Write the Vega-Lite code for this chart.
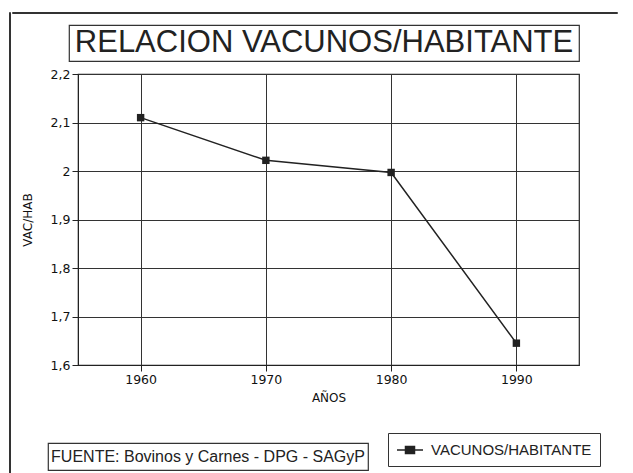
{
  "$schema": "https://vega.github.io/schema/vega-lite/v6.json",
  "background": "white",
  "padding": {"left": 8, "top": 11, "right": 0, "bottom": 0},
  "spacing": 0,
  "config": {
    "font": "Liberation Sans",
    "view": {"stroke": null},
    "axis": {
      "domainColor": "#222222",
      "tickColor": "#222222",
      "gridColor": "#333333",
      "grid": true,
      "gridWidth": 1,
      "tickSize": 6,
      "labelColor": "#111111",
      "titleColor": "#111111",
      "labelFont": "DejaVu Sans",
      "titleFont": "DejaVu Sans",
      "labelFontSize": 12.5,
      "titleFontSize": 12,
      "titleFontWeight": "normal"
    }
  },
  "datasets": {
    "ratio": [
      {"anio": 1960, "valor": 2.11, "serie": "VACUNOS/HABITANTE"},
      {"anio": 1970, "valor": 2.022, "serie": "VACUNOS/HABITANTE"},
      {"anio": 1980, "valor": 1.997, "serie": "VACUNOS/HABITANTE"},
      {"anio": 1990, "valor": 1.645, "serie": "VACUNOS/HABITANTE"}
    ],
    "titulo": [{"texto": "RELACION VACUNOS/HABITANTE"}],
    "fuente": [{"texto": "FUENTE: Bovinos y Carnes - DPG - SAGyP"}],
    "vacio": []
  },
  "hconcat": [
    {"width": 1, "height": 462, "data": {"name": "vacio"}, "mark": "point", "view": {"stroke": "#333333", "strokeWidth": 1}},
    {
      "spacing": 10,
      "vconcat": [
        {"width": 605, "height": 1, "data": {"name": "vacio"}, "mark": "point", "view": {"stroke": "#333333", "strokeWidth": 1}},
        {
          "spacing": 37,
          "vconcat": [
            {
              "spacing": 5,
              "vconcat": [
                {
                  "spacing": 55,
                  "hconcat": [
                    {"width": 1, "height": 1, "data": {"name": "vacio"}, "mark": "point"},
                    {
                      "width": 510, "height": 36,
                      "data": {"name": "titulo"},
                      "view": {"stroke": "#333333", "strokeWidth": 1.2},
                      "mark": {"type": "text", "font": "Liberation Sans", "fontSize": 31, "color": "#222222"},
                      "encoding": {"text": {"field": "texto", "type": "nominal"}}
                    }
                  ]
                },
                {
                  "spacing": 7,
                  "hconcat": [
                    {"width": 1, "height": 1, "data": {"name": "vacio"}, "mark": "point"},
                    {
                      "width": 501, "height": 291,
                      "data": {"name": "ratio"},
                      "view": {"stroke": "#222222", "strokeWidth": 1.2},
                      "encoding": {
                        "x": {
                          "field": "anio", "type": "quantitative",
                          "scale": {"domain": [1955, 1995], "nice": false, "zero": false},
                          "axis": {"values": [1960, 1970, 1980, 1990], "format": "d", "title": "AÑOS", "labelPadding": 2, "titlePadding": 7}
                        },
                        "y": {
                          "field": "valor", "type": "quantitative",
                          "scale": {"domain": [1.6, 2.2], "nice": false, "zero": false},
                          "axis": {
                            "values": [1.6, 1.7, 1.8, 1.9, 2, 2.1, 2.2],
                            "labelExpr": "replace(format(datum.value, '.1~f'), '.', ',')",
                            "title": "VAC/HAB", "labelPadding": 2, "titlePadding": 16
                          }
                        },
                        "color": {
                          "field": "serie", "type": "nominal",
                          "scale": {"range": ["#222222"]},
                          "legend": {
                            "orient": "none", "legendX": 379, "legendY": 421,
                            "title": null,
                            "strokeColor": "#333333",
                            "padding": 8,
                            "symbolType": "M-1,0H2.25M0.0625,-0.4375H1.1875V0.4375H0.0625Z",
                            "symbolSize": 256,
                            "symbolStrokeWidth": 1.5,
                            "symbolFillColor": "#222222",
                            "symbolStrokeColor": "#222222",
                            "labelFont": "Liberation Sans",
                            "labelFontSize": 15,
                            "labelColor": "#222222",
                            "labelOffset": 17,
                            "labelLimit": 300
                          }
                        }
                      },
                      "layer": [
                        {"mark": {"type": "line", "strokeWidth": 1.5}},
                        {"mark": {"type": "point", "shape": "square", "filled": true, "size": 55, "opacity": 1}}
                      ]
                    }
                  ]
                }
              ]
            },
            {
              "spacing": 34,
              "hconcat": [
                {"width": 1, "height": 1, "data": {"name": "vacio"}, "mark": "point"},
                {
                  "width": 320, "height": 27,
                  "data": {"name": "fuente"},
                  "view": {"stroke": "#333333", "strokeWidth": 1.2},
                  "mark": {"type": "text", "font": "Liberation Sans", "fontSize": 16, "color": "#222222"},
                  "encoding": {"text": {"field": "texto", "type": "nominal"}}
                }
              ]
            }
          ]
        }
      ]
    }
  ]
}
